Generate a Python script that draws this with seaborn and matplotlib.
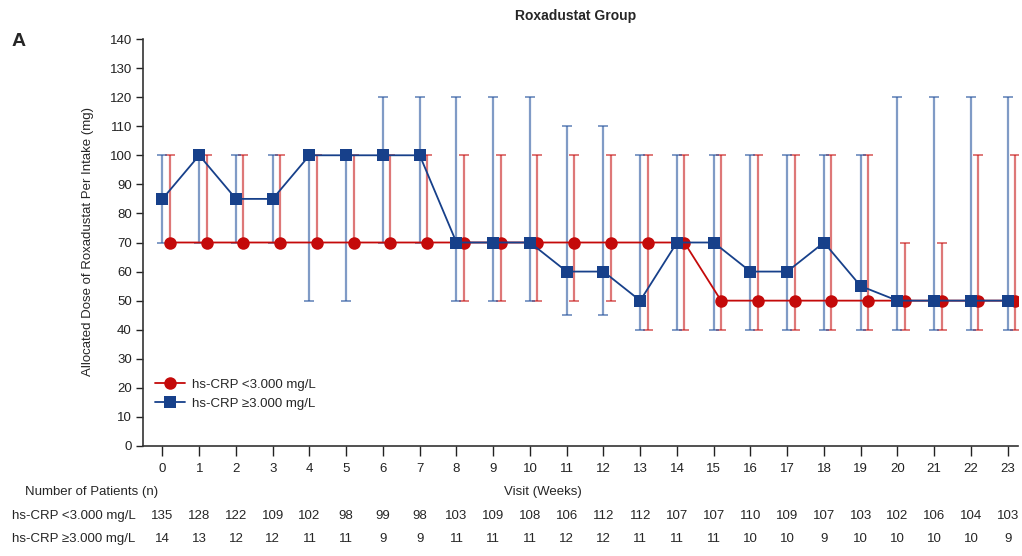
import matplotlib
matplotlib.use("Agg")
import matplotlib.pyplot as plt
import matplotlib.transforms as mtransforms
import seaborn as sns
import numpy as np
import pandas as pd

weeks = list(range(24))

# median allocated dose and range (min, max) per visit
low_median = [70] * 15 + [50] * 9
low_min = [70] * 8 + [50] * 5 + [40] * 11
low_max = [100] * 20 + [70, 70, 100, 100]

high_median = [85, 100, 85, 85, 100, 100, 100, 100, 70, 70, 70, 60, 60, 50,
               70, 70, 60, 60, 70, 55, 50, 50, 50, 50]
high_min = [70, 70, 70, 70, 50, 50, 70, 70, 50, 50, 50, 45, 45, 40,
            40, 40, 40, 40, 40, 40, 40, 40, 40, 40]
high_max = [100, 100, 100, 100, 100, 100, 120, 120, 120, 120, 120, 110, 110, 100,
            100, 100, 100, 100, 100, 100, 120, 120, 120, 120]

n_low = [135, 128, 122, 109, 102, 98, 99, 98, 103, 109, 108, 106, 112, 112,
         107, 107, 110, 109, 107, 103, 102, 106, 104, 103]
n_high = [14, 13, 12, 12, 11, 11, 9, 9, 11, 11, 11, 12, 12, 11,
          11, 11, 10, 10, 9, 10, 10, 10, 10, 9]

lab_low = "hs-CRP <3.000 mg/L"
lab_high = "hs-CRP \u22653.000 mg/L"

red = "#c40a0a"
blue = "#17408a"

sns.set_style("white")
plt.rcParams["font.family"] = ["Liberation Sans", "DejaVu Sans"]

df = pd.concat([
    pd.DataFrame({"x": np.array(weeks) + 0.2, "dose": low_median, "group": lab_low}),
    pd.DataFrame({"x": np.array(weeks), "dose": high_median, "group": lab_high}),
])

fig = plt.figure(figsize=(10.22, 5.56), dpi=100)
ax = fig.add_axes([143 / 1022, 110 / 556, 875 / 1022, 407 / 556])

# range bars
x_low = np.array(weeks) + 0.2
ax.errorbar(x_low, low_median,
            yerr=[np.array(low_median) - np.array(low_min), np.array(low_max) - np.array(low_median)],
            fmt="none", ecolor=red, elinewidth=1.6, capsize=3.5, capthick=1.4, alpha=0.55, zorder=1)
ax.errorbar(weeks, high_median,
            yerr=[np.array(high_median) - np.array(high_min), np.array(high_max) - np.array(high_median)],
            fmt="none", ecolor="#2b58a0", elinewidth=1.6, capsize=3.5, capthick=1.4, alpha=0.6, zorder=1)

sns.lineplot(data=df, x="x", y="dose", hue="group", style="group",
             hue_order=[lab_low, lab_high], style_order=[lab_low, lab_high],
             palette={lab_low: red, lab_high: blue},
             markers={lab_low: "o", lab_high: "s"}, dashes=False,
             markersize=9, markeredgewidth=0, linewidth=1.3, ax=ax, zorder=3)

ax.set_xlim(-0.53, 23.28)
ax.set_ylim(0, 140)
ax.set_xticks(weeks)
ax.set_yticks(range(0, 141, 10))
ax.set_xlabel("")
ax.set_ylabel("")
ax.tick_params(axis="both", labelsize=9.5, colors="#222222", direction="out", width=1,
               bottom=True, left=True)
ax.tick_params(axis="x", length=7, pad=5)
ax.tick_params(axis="y", length=5, pad=3)
sns.despine(ax=ax)
for s in ["left", "bottom"]:
    ax.spines[s].set_linewidth(1.2)
    ax.spines[s].set_color("#333333")

leg = ax.legend(loc="lower left", bbox_to_anchor=(0.0, 0.06), frameon=False,
                fontsize=9.5, handlelength=2.3, labelspacing=0.5, handletextpad=0.5)
for h in leg.legend_handles:
    h.set_alpha(1)

fig.text(576 / 1022, 1 - 16 / 556, "Roxadustat Group", ha="center", va="center",
         fontsize=10, fontweight="bold")
fig.text(12 / 1022, 1 - 42 / 556, "A", ha="left", va="center", fontsize=14, fontweight="bold")
fig.text(88 / 1022, 1 - 242 / 556, "Allocated Dose of Roxadustat Per Intake (mg)",
         rotation=90, ha="center", va="center", fontsize=9.5)

# number of patients table
tr = mtransforms.blended_transform_factory(ax.transData, fig.transFigure)
fig.text(25 / 1022, 1 - 492 / 556, "Number of Patients (n)", ha="left", va="center", fontsize=9.5)
fig.text(543 / 1022, 1 - 492 / 556, "Visit (Weeks)", ha="center", va="center", fontsize=9.5)
fig.text(12 / 1022, 1 - 516 / 556, lab_low, ha="left", va="center", fontsize=9.5)
fig.text(12 / 1022, 1 - 539 / 556, lab_high, ha="left", va="center", fontsize=9.5)
for w, a, b in zip(weeks, n_low, n_high):
    ax.text(w, 1 - 516 / 556, str(a), transform=tr, ha="center", va="center", fontsize=9.5)
    ax.text(w, 1 - 539 / 556, str(b), transform=tr, ha="center", va="center", fontsize=9.5)

fig.savefig("out.png", dpi=100)
